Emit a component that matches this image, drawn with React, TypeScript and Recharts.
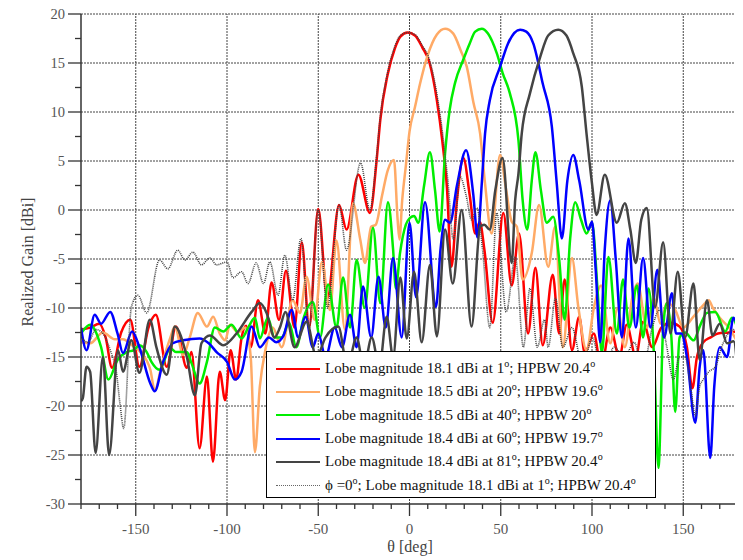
import { LineChart, Line, XAxis, YAxis, ReferenceLine } from 'recharts';

// [theta deg, realized gain dBi]
const red = [
    [-180, -12.2], [-175, -12], [-170, -11.6], [-166.5, -13], [-163, -16.1], [-158, -12.5], [-153, -11.2], [-148, -16],
    [-143, -12], [-139, -10.7], [-133, -16], [-128, -11.9], [-122, -16.1], [-119.5, -14.5], [-115, -24.3], [-111, -17],
    [-107.7, -25.7], [-104, -16.5], [-101, -19.4], [-98, -14.3], [-95, -17.3], [-92, -13], [-89.5, -11.8], [-87, -14],
    [-83, -9.2], [-79, -12.6], [-75.6, -7.4], [-71.5, -11.2], [-67.7, -6.2], [-63, -12], [-59, -3.3], [-55, -12],
    [-50, 0.1], [-45, -9], [-38.6, 0.5], [-34.5, -2], [-28, 3.6], [-21.7, -0.3], [-18, 5.1], [-16, 9.2], [-12, 13.8],
    [-8, 16.5], [-5, 17.7], [-1, 18.1], [3, 17.8], [7, 16.6], [11, 15], [15, 11.2], [18, 7], [20.5, 2.3], [23, -5.8],
    [26, 1], [29.5, 5.3], [33, 1.5], [36, -2.4], [38.5, -1.2], [41, -4], [45.6, -11.5], [51.4, -0.3], [56, -7.7],
    [60, -2.4], [65, -12.6], [69, -5.9], [73, -13.8], [78.5, -6.6], [82, -12.6], [85, -7.1], [89, -14.3], [93, -10.9],
    [96, -14.6], [101, -12.6], [105, -16], [110, -12], [115, -15], [119, -11.7], [124, -15], [128, -11.4], [133, -14],
    [138, -12], [143, -11.5], [148, -11.9], [152, -14], [155, -18.2], [157.5, -15], [161, -13.5], [165, -13],
    [169, -12.6], [175, -12.5], [180, -12.4]
];

const orange = [
    [-180, -13.5], [-175, -13.6], [-168, -12.5], [-161.5, -13.2], [-157, -13.2], [-152, -13.8], [-147, -14.6],
    [-142, -16.3], [-139.6, -18.4], [-136, -16], [-131, -13], [-128.6, -11.9], [-124, -14.8], [-120.4, -13],
    [-116, -10.5], [-111, -11.9], [-107.6, -10.9], [-104, -12.6], [-101, -13.3], [-98.4, -11.7], [-94, -12.5],
    [-90, -12], [-87, -15], [-84.7, -24.7], [-82, -18], [-79, -14.3], [-75, -12], [-70, -14], [-64, -9.2], [-60, -10.5],
    [-56.4, -6.8], [-52, -11.2], [-48, -5.3], [-43.6, -10.2], [-40, -3.1], [-35.4, -12.2], [-31, 0.7], [-27, -3],
    [-24.4, -5.4], [-21, -1.7], [-18.5, -1.5], [-15, 1.5], [-12, 4], [-8.5, 5.1], [-6.5, -1], [-5.5, -3], [-4, 1],
    [-2, 4.5], [0, 8], [3, 10.5], [5.8, 12.9], [10, 15.8], [15, 17.9], [19.5, 18.5], [24, 18], [28, 16.3], [31.4, 14.6],
    [35, 11], [38.7, 7.8], [41.4, 2.7], [45, -2.4], [49.6, 5.6], [53, 2], [56, -1.2], [58.8, -1.7], [62, -7.1],
    [67, -4.4], [71, 0.5], [76, -5.8], [79.8, -1.7], [84, -14], [89, -4.9], [92.5, -9.9], [97, -14.3], [101, -10],
    [105, -7.7], [110, -13.6], [114, -10], [118, -14], [122, -9], [125, -7.5], [130, -12], [134, -9], [137.5, -11.6],
    [141, -9.5], [145.6, -10.2], [150, -12], [155.5, -10.9], [161, -9.7], [164, -9.2], [166, -9.9], [170, -11],
    [175, -12], [180, -13.6]
];

const green = [
    [-180, -12.6], [-175, -11.7], [-172.5, -12.2], [-169, -14], [-165, -17.3], [-160, -15.3], [-155, -14.5],
    [-151, -14.3], [-148, -13.8], [-144, -14.5], [-141.4, -15.5], [-137, -16.3], [-131, -14.1], [-128, -14.5],
    [-122, -14.5], [-119.5, -15.6], [-115, -17.7], [-111, -15.5], [-106.7, -12], [-102, -12.4], [-97.5, -11.7],
    [-92, -13.1], [-88.4, -12], [-84.7, -11], [-82, -13.1], [-77.6, -11], [-74, -13], [-70, -13], [-66, -11.5],
    [-62, -14], [-58, -11], [-53, -9.4], [-49, -13], [-44.6, -7.6], [-40, -12], [-36.4, -6.9], [-32.5, -12],
    [-29, -5.1], [-24.5, -10], [-20, -1.8], [-16, -9.5], [-11.8, 0.8], [-9, -4], [-7.5, -8], [-5.2, -4.4], [-2, -1.5],
    [0.3, -0.8], [2.5, -0.6], [4.8, -1.3], [8, 2.5], [11.2, 5.9], [14, 2], [16.5, -2.2], [19.5, 5.8], [22, 10.2],
    [25, 13], [29.4, 15.3], [33, 17], [36, 18.2], [39.6, 18.5], [43, 18], [47.8, 16], [51, 14], [55, 11.9], [59.7, 7.1],
    [62, 1], [64.5, -2], [67, 3], [69, 5.9], [72, 2], [75.2, -1.3], [78.8, -0.7], [82, -5], [85, -11.2], [88, -3],
    [90.8, 0.8], [94, -1], [97, -2.4], [100, -1.3], [103, -8], [105.4, -14.6], [109, -4.8], [113.6, -12.6], [117, -7.1],
    [120.5, -12], [124.6, -7.7], [128, -13], [131, -8], [134, -15], [136.4, -26.3], [139, -12], [141, -9.5],
    [143.5, -13], [145.6, -20.6], [148, -13], [151, -12.5], [155.7, -13.3], [159, -11.9], [163, -10.5], [167.6, -10.4],
    [173, -12.4], [176.7, -11], [180, -12.2]
];

const blue = [
    [-180, -12], [-177, -14.3], [-172.5, -10.7], [-169, -11.6], [-164, -10.4], [-160, -12.6], [-157, -14.6],
    [-152, -12.4], [-148, -14], [-142, -17.7], [-139.6, -18.5], [-135, -15.5], [-129.7, -13.6], [-124, -13.3],
    [-115, -13.1], [-110, -13.6], [-105.7, -14.5], [-100, -15.5], [-95.7, -17.3], [-92, -16.5], [-86.5, -11.9],
    [-82, -14], [-77, -13], [-73, -13.5], [-69, -12.8], [-64.6, -10.2], [-61, -13], [-57, -10.9], [-53, -14],
    [-50, -12.6], [-46, -15], [-41, -12], [-37, -14], [-32.6, -10.7], [-29, -14], [-25.5, -7.8], [-21, -13],
    [-17, -6.8], [-13, -12], [-9, -4.9], [-4.3, -13], [0, -1.3], [3.6, -8.9], [8.5, 0.8], [14.5, -9.9], [17, -4],
    [19.5, -1], [22.2, -1.3], [26, 2.5], [31, 6.1], [35, 1.5], [37.3, -2.8], [39.6, 2.7], [41.4, 7.8], [44, 11.2],
    [49.6, 14.6], [54, 17], [60.6, 18.4], [64, 18.2], [67.8, 17], [73, 12.9], [78, 8.5], [80.7, 2.7], [83.5, -2.9],
    [86.5, 3], [89.7, 5.6], [93, 3], [98, -2], [100, -1.2], [102, -6], [104.5, -13.5], [107, -4], [110, 1], [113, -5],
    [116.4, -13], [120, -2.9], [124, -12], [128, -4.9], [132, -12], [135.8, -6.1], [139.5, -13], [143.8, -8.5],
    [146, -12.6], [149, -12.6], [152, -15], [156.6, -21.7], [159, -16], [161, -14.3], [164.8, -25.3], [167, -18],
    [170, -14], [174, -15], [177.5, -11], [180, -11.9]
];

const gray = [
    [-180, -19.5], [-179, -19.2], [-177, -16], [-175, -16.5], [-172, -24.8], [-168, -15], [-164.6, -25],
    [-159.7, -14.3], [-157, -16.5], [-152.4, -13.3], [-148, -16.6], [-142.3, -11.2], [-138.7, -14], [-133, -16.8],
    [-128.6, -11.9], [-122, -15], [-117.6, -18.9], [-114, -13.6], [-109.4, -12.8], [-102, -13.8], [-94.8, -12.6],
    [-86.5, -10.4], [-82, -9.5], [-78.3, -10.5], [-74, -13], [-71, -12], [-68, -10.4], [-63, -14], [-56.4, -11.4],
    [-51, -15], [-46, -13], [-39, -11.9], [-34, -16], [-29, -13], [-25, -16], [-20.7, -13], [-16.5, -16],
    [-12.5, -10.9], [-9, -15], [-5, -6.9], [-1.5, -13.1], [2.5, -6.3], [6.7, -13.5], [11.2, -5.6], [15, -12.9],
    [19.5, -2], [23.7, -7.5], [28.6, 0], [34, -11.9], [38.7, -1.7], [41, -1.5], [44, -2], [47, 2], [51, 5.3],
    [56, -5.4], [57.9, 1], [59.7, 3.7], [61.5, 7.8], [66, 11.9], [71.6, 15.6], [76, 17.8], [81.5, 18.4], [86, 17.8],
    [89.7, 16], [94.4, 12.6], [97, 7.8], [100, 2.7], [102.5, -0.5], [107, 3.6], [113.6, -1.3], [118, 0.7], [121, -2],
    [124, -5.4], [127, -1], [130, 0.2], [134.6, -9.9], [139, -3.3], [143, -12.6], [147, -6.3], [151, -13],
    [155.6, -7.5], [159, -15.3], [163, -9.2], [166, -12.8], [170, -11.6], [174, -13.6], [177.6, -13.4], [180, -17]
];

// phi = 0 cut
const dotted = [
    [-180, -13], [-176, -13.5], [-172, -12.2], [-169, -12.4], [-164, -14.3], [-160.6, -16.6], [-158.5, -20],
    [-156.6, -22.3], [-152.4, -9.9], [-148.8, -8.7], [-144, -10.5], [-137, -5.1], [-132.4, -6], [-127, -4.1],
    [-123, -5.1], [-118.7, -4.3], [-114, -5.6], [-109.4, -4.9], [-105.7, -5.6], [-100, -5.3], [-96.7, -6.9],
    [-92, -6.3], [-88.5, -7.5], [-84, -5.4], [-80, -7.5], [-76.5, -5.3], [-72, -8.7], [-68.3, -4.6], [-64, -9.2],
    [-59.5, -2.9], [-55, -12], [-50, 0], [-45, -10], [-38.6, 0.5], [-34.5, -4.1], [-26.8, 4.8], [-21.7, 0],
    [-18, 5.5], [-16, 9.5], [-12, 14], [-8, 16.7], [-5, 17.8], [-1, 18.1], [3, 17.9], [7, 16.8], [11, 15.3],
    [15, 11.8], [18, 8], [21, 3], [24, -3], [27.7, 3.4], [31, 1.5], [34, -1], [37, 0.2], [40, -4], [44, -12],
    [47.8, -0.3], [53, -10.4], [58, -4.8], [62.4, -14], [66, -8], [70, -14], [74, -11.2], [76, -14], [80, -9],
    [84, -14], [89, -12], [95, -16], [100, -13], [106, -17], [112, -14], [118, -15], [123, -13.5], [128, -16],
    [133, -12], [137, -10.2], [141, -14], [144.6, -17.3], [148, -15], [151, -15], [154, -18], [156.6, -21],
    [159, -18], [161, -17.3], [164, -16.5], [167.6, -16], [171, -14], [175, -12.5], [177.5, -12.2], [180, -12.5]
];

const xTicks = [-180, -170, -160, -150, -140, -130, -120, -110, -100, -90, -80, -70, -60, -50, -40, -30, -20, -10, 0,
    10, 20, 30, 40, 50, 60, 70, 80, 90, 100, 110, 120, 130, 140, 150, 160, 170, 180];
const yTicks = [-30, -27.5, -25, -22.5, -20, -17.5, -15, -12.5, -10, -7.5, -5, -2.5, 0, 2.5, 5, 7.5, 10, 12.5, 15, 17.5, 20];
const xGrid = [-150, -100, -50, 0, 50, 100, 150];
const yGrid = [-25, -20, -15, -10, -5, 0, 5, 10, 15, 20];

const series = [
    {name: 'red', pts: red, color: '#ff0000', label: ['Lobe magnitude 18.1 dBi at 1', '; HPBW 20.4']},
    {name: 'orange', pts: orange, color: '#ffaa66', label: ['Lobe magnitude 18.5 dBi at 20', '; HPBW 19.6']},
    {name: 'green', pts: green, color: '#00ee00', label: ['Lobe magnitude 18.5 dBi at 40', '; HPBW 20']},
    {name: 'blue', pts: blue, color: '#0000ff', label: ['Lobe magnitude 18.4 dBi at 60', '; HPBW 19.7']},
    {name: 'gray', pts: gray, color: '#444444', label: ['Lobe magnitude 18.4 dBi at 81', '; HPBW 20.4']},
];

const toRows = (pts: number[][]) => pts.map(p => ({t: p[0], g: p[1]}));

const font = '"Liberation Serif", "DejaVu Serif", serif';

function XTick(props: any) {
    const {x, y, payload} = props;
    const v = payload.value;
    const major = v % 50 === 0;
    return <g>
        <line x1={x} y1={y} x2={x} y2={y + (major ? 12 : 5)} stroke="#333" strokeWidth={1.3}/>
        {major && <text x={x} y={y + 30} textAnchor="middle" fill="#555" fontSize={15} fontFamily={font}>{v}</text>}
    </g>
}

function YTick(props: any) {
    const {x, y, payload} = props;
    const v = payload.value;
    const major = v % 5 === 0;
    return <g>
        <line x1={x} y1={y} x2={x - (major ? 13 : 6)} y2={y} stroke="#333" strokeWidth={1.3}/>
        {major && <text x={x - 16} y={y + 4.5} textAnchor="end" fill="#555" fontSize={14.5} fontFamily={font}>{v}</text>}
    </g>
}

function LegendRow(props: { color: string, dotted?: boolean, children: any }) {
    return <div style={{display: 'flex', alignItems: 'center', height: 23.3}}>
        <div style={{
            width: 44, marginLeft: 9, marginRight: 5,
            borderTop: props.dotted ? '1.5px dotted #666' : '2.5px solid ' + props.color
        }}/>
        <span>{props.children}</span>
    </div>
}

const sup = {fontSize: 10, verticalAlign: 'super', lineHeight: 0} as const;

export default function App() {
    // pulled up over the body margin so the top tick label is not clipped by the svg
    return <div style={{position: 'relative', width: 735, height: 560, marginTop: -8, fontFamily: font}}>
        <LineChart width={735} height={560} data={[]} margin={{top: 14, right: 5, bottom: 0, left: 0}}>
            <XAxis type="number" dataKey="t" domain={[-180, 180]} ticks={xTicks} interval={0} allowDataOverflow
                   tickSize={0} tickMargin={0} tickLine={false} tick={<XTick/>} height={56}
                   axisLine={{stroke: '#333', strokeWidth: 1.5}}/>
            <YAxis type="number" dataKey="g" domain={[-30, 20]} ticks={yTicks} interval={0} allowDataOverflow
                   tickSize={0} tickMargin={0} tickLine={false} tick={<YTick/>} width={73}
                   axisLine={{stroke: '#333', strokeWidth: 1.5}}/>
            {xGrid.map(v => <ReferenceLine key={'x' + v} x={v} stroke="#444" strokeWidth={1} strokeDasharray="2 1"/>)}
            {yGrid.map(v => <ReferenceLine key={'y' + v} y={v} stroke="#444" strokeWidth={1} strokeDasharray="2 1"/>)}
            {series.map(s => <Line key={s.name} data={toRows(s.pts)} dataKey="g" type="monotone" stroke={s.color}
                                   strokeWidth={2.5} dot={false} isAnimationActive={false}/>)}
            <Line data={toRows(dotted)} dataKey="g" type="monotone" stroke="#444" strokeWidth={1.6}
                  strokeDasharray="1 1" dot={false} isAnimationActive={false}/>
        </LineChart>
        <div style={{
            position: 'absolute', left: 258, top: 351, width: 390, height: 147, background: '#fff',
            border: '1.5px solid #000', fontSize: 15, color: '#111', paddingTop: 5, boxSizing: 'border-box'
        }}>
            {series.map(s => <LegendRow key={s.name} color={s.color}>
                {s.label[0]}<span style={sup}>o</span>{s.label[1]}<span style={sup}>o</span>
            </LegendRow>)}
            <LegendRow color="#555" dotted>
                {'\u03d5 =0'}<span style={sup}>o</span>{'; Lobe magnitude 18.1 dBi at 1'}<span style={sup}>o</span>{'; HPBW 20.4'}<span style={sup}>o</span>
            </LegendRow>
        </div>
        <div style={{
            position: 'absolute', left: 20, top: 262, width: 0, height: 0, overflow: 'visible'
        }}>
            <div style={{
                position: 'absolute', transform: 'translate(-50%, -50%) rotate(-90deg)', whiteSpace: 'nowrap',
                fontSize: 16, color: '#444'
            }}>Realized Gain [dBi]</div>
        </div>
        <div style={{
            position: 'absolute', left: 0, width: 804, top: 538, textAlign: 'center', fontSize: 16, color: '#444'
        }}>{'\u03b8 [deg]'}</div>
    </div>
}
